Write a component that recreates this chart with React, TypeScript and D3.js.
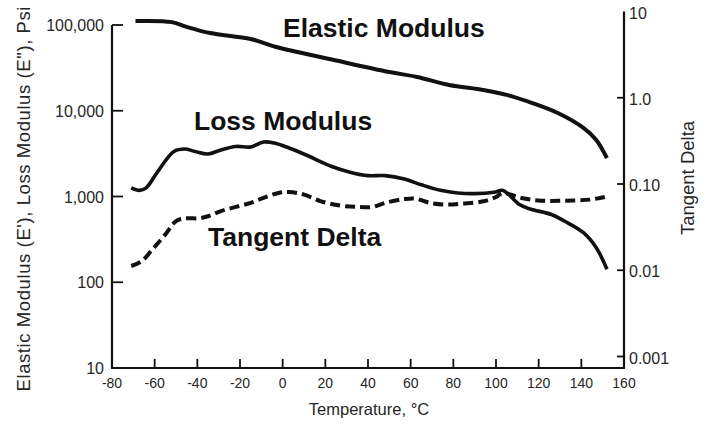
import React from "react";
import * as d3 from "d3";

// Temperature sweep (°C) and measured moduli (psi) / loss tangent
const elasticTemp = [-69, -52, -45, -34, -15, -3, 24, 50, 63, 78, 94, 105, 117, 129, 141, 147, 152];
const elasticModulus = [111000, 108000, 95000, 80700, 68700, 55400, 39100, 28300, 24800, 20000, 17500, 15300, 12300, 9400, 6300, 4560, 2800];

const lossTemp = [-71, -67, -64, -59, -51, -46, -41, -35, -29, -22, -15, -9, -4, 3, 11, 23, 32, 40, 48, 57, 65, 74, 82, 90, 99, 103, 106, 111, 116, 126, 132, 141, 147, 152];
const lossModulus = [1260, 1180, 1260, 1880, 3350, 3580, 3350, 3130, 3490, 3830, 3780, 4320, 4210, 3680, 3050, 2240, 1910, 1750, 1750, 1600, 1370, 1180, 1100, 1080, 1120, 1180, 1050, 805, 715, 617, 518, 378, 253, 142];

const tanTemp = [-71, -66, -61, -55, -50, -46, -39, -35, -29, -22, -15, -9, -2, 3, 10, 18, 27, 35, 42, 48, 57, 62, 69, 77, 85, 94, 100, 103, 107, 112, 121, 132, 144, 151];
const tanDelta = [0.0112, 0.0128, 0.0175, 0.026, 0.0371, 0.0398, 0.0401, 0.0423, 0.0484, 0.0542, 0.0604, 0.0689, 0.0787, 0.0808, 0.0753, 0.063, 0.0562, 0.0542, 0.0542, 0.0604, 0.067, 0.0678, 0.0604, 0.0577, 0.0593, 0.063, 0.0706, 0.0787, 0.0753, 0.0689, 0.0641, 0.0641, 0.0659, 0.0706];

const tempTicks = [-80, -60, -40, -20, 0, 20, 40, 60, 80, 100, 120, 140, 160];
const leftTicks = [10, 100, 1000, 10000, 100000];
const leftTickLabels = ["10", "100", "1,000", "10,000", "100,000"];
const rightTicks = [0.001, 0.01, 0.1, 1, 10];
const rightTickLabels = ["0.001", "0.01", "0.10", "1.0", "10"];

const W = 707;
const H = 427;
const FONT = "'Liberation Sans', Arial, Helvetica, sans-serif";
const INK = "#111";
const LABEL = "#262626";

export default function App() {
  const x = d3.scaleLinear().domain([-80, 160]).range([112, 624]);
  const yL = d3.scaleLog().domain([10, 100000]).range([368, 25]);
  const yR = d3.scaleLog().domain([0.001, 10]).range([356.5, 11.5]);

  const curve = d3.curveCatmullRom.alpha(0.5);
  const lineL = d3
    .line<[number, number]>()
    .x((d) => x(d[0]))
    .y((d) => yL(d[1]))
    .curve(curve);
  const lineR = d3
    .line<[number, number]>()
    .x((d) => x(d[0]))
    .y((d) => yR(d[1]))
    .curve(curve);

  const elastic = elasticTemp.map((t, i) => [t, elasticModulus[i]] as [number, number]);
  const loss = lossTemp.map((t, i) => [t, lossModulus[i]] as [number, number]);
  const tan = tanTemp.map((t, i) => [t, tanDelta[i]] as [number, number]);

  const bottom = 368;
  const left = x(-80);
  const right = x(160);

  return (
    <svg
      width={W}
      height={H}
      viewBox={`0 0 ${W} ${H}`}
      style={{ position: "absolute", left: 0, top: 0, background: "#fff" }}
      fontFamily={FONT}
    >
      <rect x={0} y={0} width={W} height={H} fill="#fff" />

      {/* axes frame */}
      <line x1={left} x2={left} y1={yL(100000)} y2={bottom} stroke={INK} strokeWidth={2.2} />
      <line x1={right} x2={right} y1={yR(10)} y2={bottom} stroke={INK} strokeWidth={2.2} />
      <line x1={left - 1} x2={right + 1} y1={bottom} y2={bottom} stroke={INK} strokeWidth={2.2} />

      {/* temperature ticks */}
      {tempTicks.map((t) => (
        <g key={`t${t}`}>
          {t > -80 && t < 160 && (
            <line x1={x(t)} x2={x(t)} y1={bottom} y2={bottom - 9} stroke={INK} strokeWidth={1.8} />
          )}
          <text x={x(t)} y={388} fontSize={14} textAnchor="middle" fill={LABEL}>
            {t}
          </text>
        </g>
      ))}

      {/* left modulus ticks */}
      {leftTicks.map((v, i) => (
        <g key={`l${v}`}>
          {v > 10 && (
            <line x1={left} x2={left + 11} y1={yL(v)} y2={yL(v)} stroke={INK} strokeWidth={1.8} />
          )}
          <text x={104} y={yL(v) + 6} fontSize={16} textAnchor="end" fill={LABEL}>
            {leftTickLabels[i]}
          </text>
        </g>
      ))}

      {/* right tangent delta ticks */}
      {rightTicks.map((v, i) => (
        <g key={`r${v}`}>
          {v < 10 && (
            <line x1={right - 7} x2={right} y1={yR(v)} y2={yR(v)} stroke={INK} strokeWidth={1.8} />
          )}
          <text x={629} y={yR(v) + 7} fontSize={16} textAnchor="start" fill={LABEL}>
            {rightTickLabels[i]}
          </text>
        </g>
      ))}

      {/* axis titles */}
      <text x={369} y={415} fontSize={16.5} textAnchor="middle" fill={LABEL}>
        Temperature, °C
      </text>
      <text
        transform="translate(30,199) rotate(-90)"
        fontSize={18.5}
        textAnchor="middle"
        fill={LABEL}
        textLength={385}
        lengthAdjust="spacing"
      >
        Elastic Modulus (E'), Loss Modulus (E"), Psi
      </text>
      <text transform="translate(694,178) rotate(-90)" fontSize={18.5} textAnchor="middle" fill={LABEL}>
        Tangent Delta
      </text>

      {/* series */}
      <path d={lineL(elastic) ?? ""} fill="none" stroke={INK} strokeWidth={4} />
      <path d={lineL(loss) ?? ""} fill="none" stroke={INK} strokeWidth={3.6} />
      <path d={lineR(tan) ?? ""} fill="none" stroke={INK} strokeWidth={4} strokeDasharray="10,5" />

      {/* series labels */}
      <text x={283} y={37} fontSize={26.5} fontWeight="bold" fill={INK}>
        Elastic Modulus
      </text>
      <text x={194} y={130} fontSize={26.5} fontWeight="bold" fill={INK}>
        Loss Modulus
      </text>
      <text x={208} y={246} fontSize={26.5} fontWeight="bold" fill={INK}>
        Tangent Delta
      </text>
    </svg>
  );
}
